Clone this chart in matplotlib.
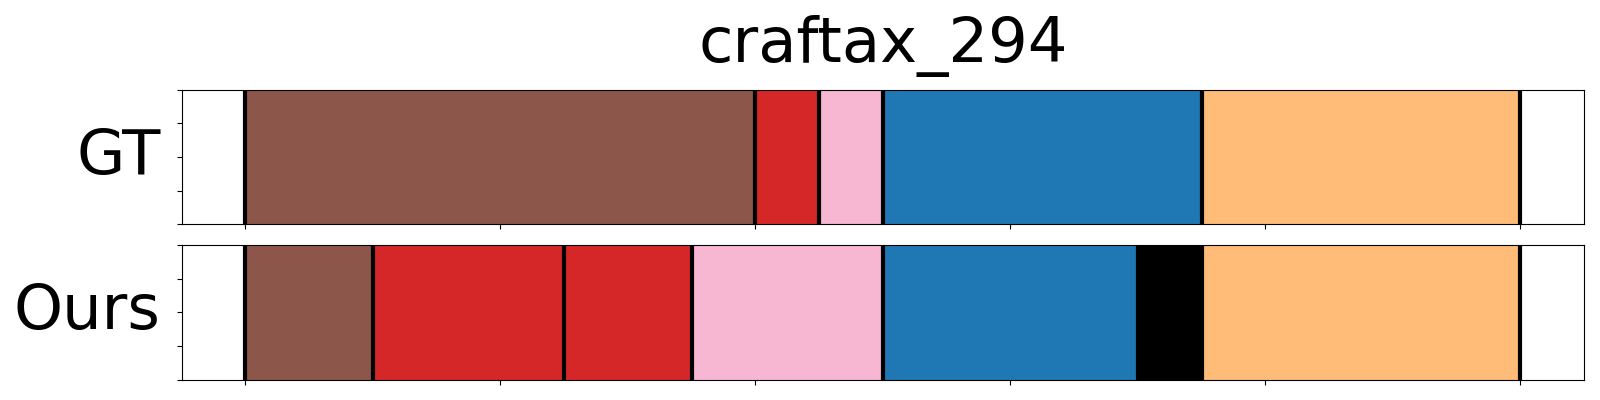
import matplotlib
matplotlib.use("Agg")
import matplotlib.pyplot as plt

title = "craftax_294"
row_names = ["GT", "Ours"]

# segment boundaries (0..100) and colours, one list per row
gt_bounds = [0, 40, 45, 50, 75, 100]
gt_colors = ["#8c564b", "#d62728", "#f7b6d2", "#1f77b4", "#ffbb78"]

ours_bounds = [0, 10, 25, 35, 50, 70, 75, 100]
ours_colors = ["#8c564b", "#d62728", "#d62728", "#f7b6d2", "#1f77b4", "#000000", "#ffbb78"]

rows = [(gt_bounds, gt_colors), (ours_bounds, ours_colors)]

fig = plt.figure(figsize=(16, 4), dpi=100)
axes = [fig.add_axes([0.1135, 0.439, 0.8765, 0.3365]),
        fig.add_axes([0.1135, 0.051, 0.8765, 0.337])]

for ax, name, (bounds, colors) in zip(axes, row_names, rows):
    for i, c in enumerate(colors):
        ax.axvspan(bounds[i], bounds[i + 1], color=c)
    # segment borders
    for b in bounds:
        ax.axvline(b, color="black", linewidth=3)
    ax.set_xlim(-5, 105)
    ax.set_ylim(0, 1)
    ax.set_xticks([0, 20, 40, 60, 80, 100])
    ax.set_xticklabels([])
    ax.set_yticks([0, 0.25, 0.5, 0.75, 1])
    ax.set_yticklabels([])
    ax.set_ylabel(name, rotation=0, fontsize=45, ha="right", va="center", labelpad=8)

axes[0].set_title(title, fontsize=45, pad=20)

fig.savefig("out.png", dpi=100)
